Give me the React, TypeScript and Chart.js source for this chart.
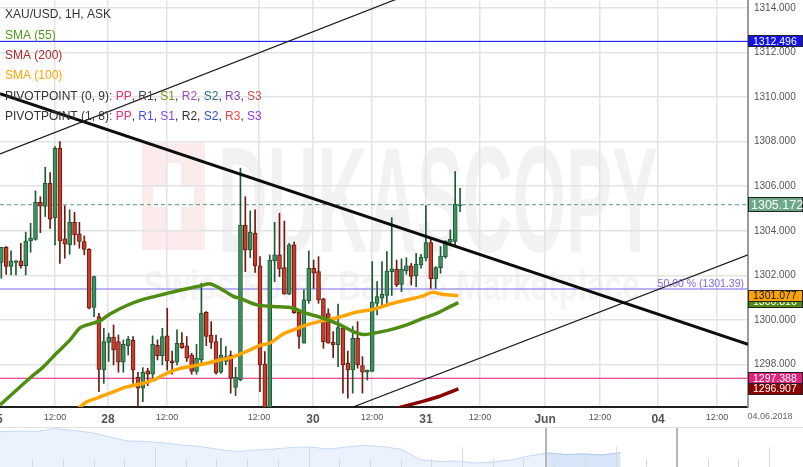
import React, { useEffect, useRef } from 'react';
import { Chart, registerables } from 'chart.js';

Chart.register(...registerables);

const FONT = 'Arial, "Liberation Sans", sans-serif';

// ---- Hourly XAU/USD (ask) candles ----
const opens = [1302.58, 1303.26, 1302.40, 1302.58, 1302.65, 1302.44, 1303.55, 1303.61, 1305.28, 1305.09,
  1306.13, 1304.59, 1307.70, 1303.64, 1303.37, 1304.38, 1303.86, 1303.52, 1303.17, 1300.56,
  1300.15, 1297.76, 1299.00, 1299.24, 1299.03, 1298.11, 1298.85, 1299.09, 1297.43, 1296.94,
  1297.72, 1297.57, 1298.87, 1298.40, 1299.29, 1298.17, 1298.11, 1298.96, 1298.84, 1298.43,
  1297.69, 1298.21, 1300.35, 1299.33, 1299.03, 1297.66, 1298.14, 1298.43, 1296.98, 1297.31,
  1304.26, 1303.14, 1303.89, 1302.43, 1298.02, 1295.80, 1302.65, 1302.92, 1302.35, 1301.16,
  1303.37, 1300.35, 1298.96, 1300.86, 1302.32, 1302.17, 1300.95, 1300.29, 1299.00, 1298.88,
  1299.63, 1298.06, 1297.76, 1299.18, 1297.96, 1297.66, 1297.69, 1300.75, 1300.98, 1301.10,
  1302.17, 1302.28, 1301.60, 1302.20, 1302.43, 1301.99, 1302.47, 1302.77, 1303.47, 1301.84,
  1302.35, 1302.84, 1303.49, 1303.52, 1305.12];
const highs = [1303.26, 1303.30, 1303.10, 1302.66, 1303.44, 1303.94, 1304.34, 1305.79, 1305.53, 1306.85,
  1306.61, 1307.78, 1308.00, 1305.12, 1304.94, 1304.83, 1304.38, 1303.77, 1303.20, 1301.97,
  1300.30, 1299.63, 1299.41, 1299.78, 1299.33, 1299.11, 1299.26, 1299.26, 1297.66, 1297.87,
  1297.84, 1299.29, 1299.11, 1299.63, 1300.53, 1298.61, 1299.56, 1299.44, 1299.26, 1298.51,
  1298.91, 1301.65, 1300.38, 1299.93, 1299.33, 1299.18, 1298.81, 1298.61, 1297.88, 1306.81,
  1305.53, 1304.89, 1304.94, 1302.84, 1298.58, 1302.92, 1304.38, 1304.79, 1304.44, 1303.44,
  1303.49, 1300.38, 1301.35, 1303.10, 1302.69, 1302.84, 1300.98, 1300.50, 1299.48, 1300.71,
  1299.71, 1298.61, 1299.71, 1299.93, 1298.36, 1297.76, 1302.62, 1301.72, 1302.62, 1303.07,
  1304.59, 1302.69, 1302.74, 1302.80, 1302.54, 1302.99, 1302.95, 1305.13, 1303.64, 1302.40,
  1303.29, 1303.55, 1304.04, 1306.66, 1305.91];
const lows = [1301.87, 1302.05, 1302.02, 1302.02, 1302.32, 1302.02, 1303.04, 1303.58, 1303.92, 1304.64,
  1304.11, 1303.37, 1302.54, 1302.77, 1302.95, 1303.37, 1303.22, 1302.92, 1300.50, 1300.15,
  1296.79, 1297.16, 1298.14, 1297.99, 1297.66, 1297.66, 1298.43, 1297.16, 1296.12, 1296.34,
  1297.06, 1297.39, 1298.21, 1297.99, 1297.76, 1297.57, 1297.99, 1298.73, 1298.14, 1297.57,
  1297.57, 1297.99, 1298.85, 1298.73, 1297.57, 1297.61, 1297.99, 1296.72, 1296.61, 1297.27,
  1302.17, 1302.80, 1302.14, 1296.79, 1295.50, 1295.50, 1301.72, 1301.95, 1301.16, 1301.13,
  1300.30, 1298.73, 1298.96, 1300.75, 1301.42, 1300.75, 1298.73, 1298.96, 1298.31, 1297.91,
  1296.72, 1296.50, 1296.72, 1297.84, 1296.72, 1297.31, 1297.69, 1300.23, 1300.60, 1300.65,
  1301.10, 1301.50, 1301.27, 1302.05, 1301.57, 1301.50, 1302.32, 1302.65, 1301.42, 1301.42,
  1302.10, 1302.77, 1303.34, 1303.37, 1304.86];
const closes = [1303.26, 1302.40, 1302.65, 1302.65, 1302.44, 1303.55, 1303.67, 1305.28, 1305.10, 1306.13,
  1304.52, 1307.70, 1303.55, 1303.40, 1304.38, 1303.82, 1303.52, 1303.17, 1300.53, 1301.95,
  1297.79, 1299.03, 1299.24, 1298.66, 1298.11, 1298.91, 1299.14, 1297.76, 1296.94, 1297.66,
  1297.57, 1298.91, 1298.40, 1299.26, 1298.17, 1298.09, 1298.96, 1298.76, 1298.29, 1297.69,
  1298.29, 1300.30, 1299.26, 1299.00, 1297.64, 1298.43, 1298.36, 1297.39, 1297.43, 1304.26,
  1303.14, 1303.94, 1302.43, 1297.99, 1295.80, 1302.69, 1302.92, 1302.29, 1301.16, 1303.37,
  1300.33, 1299.26, 1300.90, 1302.32, 1302.10, 1300.90, 1299.03, 1298.96, 1298.88, 1299.66,
  1297.99, 1297.76, 1299.18, 1297.99, 1297.66, 1297.76, 1300.80, 1301.05, 1301.16, 1302.20,
  1302.29, 1301.57, 1302.28, 1302.43, 1301.95, 1302.50, 1302.81, 1303.47, 1301.84, 1302.35,
  1302.87, 1303.55, 1303.62, 1305.19, 1305.17];

// ---- Moving averages (candle position, value) ----
const sma55Pos = [-0.27, 2.46, 5.88, 8.61, 11.35, 14.08, 16.13, 18.18, 20.23, 22.27, 25.70, 28.42, 31.15, 33.89, 37.30,
  40.72, 42.77, 44.82, 47.54, 48.91, 52.34, 55.74, 59.16, 62.58, 65.98, 69.41, 72.13, 74.18, 76.23, 79.65,
  83.07, 86.48, 89.22, 91.95, 93.65];
const sma55Val = [1296.19, 1296.73, 1297.40, 1297.90, 1298.52, 1299.11, 1299.65, 1299.82, 1299.96, 1300.27, 1300.65,
  1300.88, 1301.04, 1301.19, 1301.37, 1301.53, 1301.62, 1301.42, 1301.06, 1300.97, 1300.68, 1300.61, 1300.56,
  1300.30, 1300.08, 1299.78, 1299.48, 1299.35, 1299.41, 1299.56, 1299.78, 1300.08, 1300.30, 1300.60, 1300.78];
const sma100Pos = [14.8, 16.13, 17.50, 20.23, 22.95, 25.70, 28.42, 31.15, 33.89, 36.62, 39.34, 42.09, 44.82, 47.54, 50.96,
  53.01, 55.06, 57.79, 59.84, 62.58, 65.31, 67.36, 70.08, 72.83, 76.23, 79.65, 83.07, 86.48, 88.20, 90.25, 93.65];
const sma100Val = [1295.85, 1296.10, 1296.33, 1296.55, 1296.78, 1297.00, 1297.13, 1297.31, 1297.61, 1297.83, 1297.94,
  1298.06, 1298.21, 1298.35, 1298.66, 1298.86, 1298.97, 1299.38, 1299.56, 1299.78, 1299.94, 1300.03, 1300.18,
  1300.36, 1300.48, 1300.72, 1300.90, 1301.08, 1301.24, 1301.16, 1301.09];
const sma200Pos = [78.6, 81.35, 86.15, 89.55, 93.65];
const sma200Val = [1295.84, 1296.06, 1296.34, 1296.56, 1296.91];

// ---- Drawn studies ----
const trendDownPos = [-0.27, 153.0];
const trendDownVal = [1310.15, 1298.91];
const channelUpperPos = [-0.27, 153.0];
const channelUpperVal = [1307.45, 1320.54];
const channelLowerPos = [72.07, 153.0];
const channelLowerVal = [1296.10, 1302.92];

const levelResistance = 1312.496;
const levelAsk = 1305.172;
const levelFibo = 1301.39;
const levelSupport = 1297.388;

// ---- Axes ----
const X_MIN = -0.27;
const X_MAX = 153.0;
const Y_MIN = 1296.10;
const Y_MAX = 1314.35;
const yTicks = [1298, 1300, 1302, 1304, 1306, 1308, 1310, 1312, 1314];
const xTickPos = [-1.09, 11.0, 21.86, 33.96, 52.81, 63.87, 75.96, 87.03, 98.09, 111.42, 122.68, 134.57, 146.66];
const xTickLabels = ['25', '12:00', '28', '12:00', '12:00', '30', '12:00', '31', '12:00', 'Jun', '12:00', '04', '12:00'];
const xTickIsDay = [true, false, true, false, false, true, false, true, false, true, false, true, false];

// ---- Right-hand price tags ----
const tagValues = [1312.496, 1305.172, 1300.816, 1301.077, 1297.388, 1296.907];
const tagBg = ['#1212ee', '#6aa886', '#4f8a12', '#ffa500', '#e0207c', '#8b0000'];
const tagFg = ['#ffffff', '#ffffff', '#ffffff', '#111111', '#ffffff', '#ffffff'];

// ---- Navigator (longer history) ----
const navVals = [1306.9, 1307.4, 1307.1, 1309.0, 1307.7, 1306.4, 1303.5, 1300.9, 1300.6, 1299.6, 1298.3, 1297.3,
  1295.4, 1294.1, 1295.1, 1295.7, 1296.7, 1297.0, 1295.7, 1297.0, 1298.0, 1297.3, 1295.4, 1288.9, 1287.6,
  1287.9, 1286.6, 1287.3, 1288.6, 1291.2, 1293.1, 1292.1, 1292.5, 1291.8, 1293.3];
const navWindow = [29.92, 37.1];

const legendRows: [string, string][][] = [
  [['XAU/USD, 1H, ASK', '#333333']],
  [['SMA (55)', '#4f9a1c']],
  [['SMA (200)', '#b02828']],
  [['SMA (100)', '#ffa500']],
  [['PIVOTPOINT (0, 9): ', '#333333'], ['PP', '#e8307a'], [', ', '#333333'], ['R1', '#444444'], [', ', '#333333'],
    ['S1', '#7f8a1e'], [', ', '#333333'], ['R2', '#a050b4'], [', ', '#333333'], ['S2', '#2f6a82'], [', ', '#333333'],
    ['R3', '#8e48a8'], [', ', '#333333'], ['S3', '#c45050']],
  [['PIVOTPOINT (1, 8): ', '#333333'], ['PP', '#e8307a'], [', ', '#333333'], ['R1', '#4a4aff'], [', ', '#333333'],
    ['S1', '#7e44f0'], [', ', '#333333'], ['R2', '#333333'], [', ', '#333333'], ['S2', '#3050d0'], [', ', '#333333'],
    ['R3', '#ff4242'], [', ', '#333333'], ['S3', '#9a38e6']],
];

const BULL_FILL = '#3f8f5f';
const BULL_LINE = '#1d5a34';
const BEAR_FILL = '#c63d2c';
const BEAR_LINE = '#6e1a10';

const pts = (xs: number[], ys: number[]) => xs.map((x, i) => ({ x, y: ys[i] }));
const level = (v: number) => [{ x: X_MIN, y: v }, { x: X_MAX, y: v }];

function stretchedText(ctx: any, text: string, x: number, baseline: number, width: number, capHeight: number, weight: string) {
  ctx.save();
  const size = 60;
  ctx.font = `${weight} ${size}px ${FONT}`;
  ctx.textBaseline = 'alphabetic';
  const w = ctx.measureText(text).width;
  ctx.translate(x, baseline);
  ctx.scale(width / w, capHeight / (0.716 * size));
  ctx.fillText(text, 0, 0);
  ctx.restore();
}

const decoPlugin = {
  id: 'deco',
  beforeDraw(chart: any) {
    const ctx = chart.ctx;
    ctx.save();
    ctx.fillStyle = '#fcebec';
    ctx.fillRect(142, 143, 63, 107);
    ctx.fillStyle = '#ffffff';
    ctx.fillRect(167, 163, 14, 68);
    ctx.fillRect(153, 187, 41, 20);
    ctx.fillStyle = '#f2f2f2';
    stretchedText(ctx, 'DUKASCOPY', 218, 252, 440, 107, 'bold');
    ctx.fillStyle = '#f4f4f4';
    stretchedText(ctx, 'Swiss Forex Bank & Marketplace', 144, 300, 496, 30, 'bold');
    ctx.restore();
  },
  afterDraw(chart: any) {
    const ctx = chart.ctx;
    const ys = chart.scales.y;
    ctx.save();
    // legend
    ctx.textBaseline = 'middle';
    ctx.textAlign = 'left';
    ctx.font = `12px ${FONT}`;
    legendRows.forEach((row, r) => {
      let x = 5;
      const y = 15 + r * 20.3;
      row.forEach(([t, c]) => {
        ctx.fillStyle = c;
        ctx.fillText(t, x, y);
        x += ctx.measureText(t).width;
      });
    });
    // fibonacci label
    ctx.font = `10.5px ${FONT}`;
    ctx.fillStyle = '#7b68ee';
    ctx.textAlign = 'right';
    ctx.textBaseline = 'alphabetic';
    ctx.fillText('50.00 % (1301.39)', 744, ys.getPixelForValue(levelFibo) - 2);
    // price tags
    ctx.textAlign = 'left';
    ctx.textBaseline = 'middle';
    tagValues.forEach((v, i) => {
      const y = ys.getPixelForValue(v);
      const big = i === 1;
      const h = big ? 15 : 12;
      ctx.fillStyle = tagBg[i];
      ctx.fillRect(748, Math.round(y - h / 2), 55, h);
      ctx.strokeStyle = '#222222';
      ctx.lineWidth = 1;
      ctx.strokeRect(748.5, Math.round(y - h / 2) + 0.5, 54, h - 1);
      ctx.fillStyle = tagFg[i];
      ctx.font = big ? `12.5px ${FONT}` : `10.5px ${FONT}`;
      ctx.fillText(v.toFixed(3), big ? 751 : 753, y + 0.5);
    });
    // date under the price axis
    ctx.fillStyle = '#666666';
    ctx.font = `9px ${FONT}`;
    ctx.textAlign = 'center';
    ctx.fillText('04.06.2018', 770, 417);
    ctx.restore();
  },
};

const navPlugin = {
  id: 'navdeco',
  afterDraw(chart: any) {
    const ctx = chart.ctx;
    const xs = chart.scales.x;
    ctx.save();
    ctx.strokeStyle = '#e2e2e2';
    ctx.lineWidth = 1;
    ctx.beginPath();
    ctx.moveTo(0, 0.5);
    ctx.lineTo(803, 0.5);
    ctx.stroke();
    ctx.strokeStyle = '#d9d9d9';
    for (let k = 0; k < 25; k++) {
      const x = Math.round(xs.getPixelForValue(1.77 + k * 1.682)) + 0.5;
      ctx.beginPath();
      ctx.moveTo(x, k % 5 === 4 ? 20 : 32);
      ctx.lineTo(x, 40);
      ctx.stroke();
    }
    ctx.strokeStyle = '#b4b4b4';
    ctx.lineWidth = 2;
    navWindow.forEach((v) => {
      const x = xs.getPixelForValue(v);
      ctx.beginPath();
      ctx.moveTo(x, 1);
      ctx.lineTo(x, 40);
      ctx.stroke();
    });
    ctx.restore();
  },
};

export default function App() {
  const mainRef = useRef<HTMLCanvasElement>(null);
  const navRef = useRef<HTMLCanvasElement>(null);

  useEffect(() => {
    const idx = opens.map((_, i) => i);
    const bull = idx.map((i) => closes[i] >= opens[i]);
    const gridColor = '#e3e3e3';

    const main = new Chart(mainRef.current as HTMLCanvasElement, {
      type: 'bar',
      data: {
        datasets: [
          { type: 'line', data: level(levelResistance), borderColor: '#0000ff', borderWidth: 1, pointRadius: 0, order: 20 },
          { type: 'line', data: level(levelAsk), borderColor: '#5e9e7e', borderWidth: 1, borderDash: [4, 3], pointRadius: 0, order: 20 },
          { type: 'line', data: level(levelFibo), borderColor: '#7b68ee', borderWidth: 1, pointRadius: 0, order: 20 },
          { type: 'line', data: level(levelSupport), borderColor: '#e2197c', borderWidth: 1, pointRadius: 0, order: 20 },
          {
            type: 'bar', data: idx.map((i) => ({ x: i, y: [lows[i], highs[i]] })),
            backgroundColor: idx.map((i) => (bull[i] ? BULL_LINE : BEAR_LINE)),
            barThickness: 1, grouped: false, borderWidth: 0, order: 12,
          },
          {
            type: 'bar', data: idx.map((i) => ({ x: i, y: [opens[i], closes[i]] })),
            backgroundColor: idx.map((i) => (bull[i] ? BULL_FILL : BEAR_FILL)),
            borderColor: idx.map((i) => (bull[i] ? BULL_LINE : BEAR_LINE)),
            borderWidth: 1, borderSkipped: false, barThickness: 4, minBarLength: 1, grouped: false, order: 11,
          },
          { type: 'line', data: pts(sma200Pos, sma200Val), borderColor: '#8b0000', borderWidth: 3.5, pointRadius: 0, tension: 0.3, order: 5 },
          { type: 'line', data: pts(sma100Pos, sma100Val), borderColor: '#ffa500', borderWidth: 3.5, pointRadius: 0, tension: 0.3, order: 4 },
          { type: 'line', data: pts(sma55Pos, sma55Val), borderColor: '#4f8c12', borderWidth: 3.5, pointRadius: 0, tension: 0.3, order: 3 },
          { type: 'line', data: pts(channelUpperPos, channelUpperVal), borderColor: '#1a1a1a', borderWidth: 1.2, pointRadius: 0, order: 2 },
          { type: 'line', data: pts(channelLowerPos, channelLowerVal), borderColor: '#1a1a1a', borderWidth: 1.2, pointRadius: 0, order: 2 },
          { type: 'line', data: pts(trendDownPos, trendDownVal), borderColor: '#0d0d0d', borderWidth: 3, pointRadius: 0, order: 1 },
        ] as any,
      },
      options: {
        responsive: false,
        animation: false,
        events: [],
        layout: { padding: 0 },
        plugins: { legend: { display: false }, tooltip: { enabled: false } },
        scales: {
          x: {
            type: 'linear', min: X_MIN, max: X_MAX, offset: false, position: 'bottom',
            grid: { color: gridColor, lineWidth: 1.5, drawTicks: false, offset: false },
            border: { display: true, color: '#1e1e1e', width: 2 },
            ticks: {
              autoSkip: false, maxRotation: 0, minRotation: 0, padding: 5, color: '#555555',
              font: (c: any) => (xTickIsDay[c.index]
                ? { family: FONT, size: 12, weight: 'bold' }
                : { family: FONT, size: 9, weight: 'normal' }),
              callback: (_v: any, i: number) => xTickLabels[i],
            },
            afterBuildTicks: (s: any) => { s.ticks = xTickPos.map((v) => ({ value: v })); },
            afterFit: (s: any) => { s.height = 20; s.paddingLeft = 0; s.paddingRight = 0; },
          },
          y: {
            type: 'linear', position: 'right', min: Y_MIN, max: Y_MAX,
            grid: { color: gridColor, lineWidth: 1.5, drawTicks: false },
            border: { display: true, color: '#9a9a9a', width: 2 },
            ticks: {
              padding: 6, color: '#555555', font: { family: FONT, size: 10 },
              callback: (v: any) => Number(v).toFixed(3),
            },
            afterBuildTicks: (s: any) => { s.ticks = yTicks.map((v) => ({ value: v })); },
            afterFit: (s: any) => { s.width = 55; s.paddingTop = 0; s.paddingBottom = 0; },
          },
        },
      } as any,
      plugins: [decoPlugin],
    });

    const nav = new Chart(navRef.current as HTMLCanvasElement, {
      type: 'line',
      data: {
        datasets: [
          {
            data: navVals.slice(30).map((v, k) => ({ x: k + 30, y: v })),
            fill: 'start', backgroundColor: '#d7e5f9', borderColor: '#b3cbef', borderWidth: 1, pointRadius: 0, order: 1,
          },
          {
            data: navVals.map((v, i) => ({ x: i, y: v })),
            fill: 'start', backgroundColor: '#ebf2fd', borderColor: '#c6d9f5', borderWidth: 1, pointRadius: 0, order: 2,
          },
        ] as any,
      },
      options: {
        responsive: false,
        animation: false,
        events: [],
        layout: { padding: 0 },
        plugins: { legend: { display: false }, tooltip: { enabled: false } },
        scales: {
          x: { type: 'linear', display: false, min: 0, max: 44 },
          y: { type: 'linear', display: false, min: 1284, max: 1310 },
        },
      } as any,
      plugins: [navPlugin],
    });

    return () => {
      main.destroy();
      nav.destroy();
    };
  }, []);

  return (
    <div style={{ position: 'absolute', left: 0, top: 0, width: 803, height: 467, background: '#ffffff', overflow: 'hidden' }}>
      <canvas ref={mainRef} width={803} height={427} style={{ position: 'absolute', left: 0, top: 0, width: 803, height: 427 }} />
      <canvas ref={navRef} width={803} height={40} style={{ position: 'absolute', left: 0, top: 427, width: 803, height: 40 }} />
    </div>
  );
}
